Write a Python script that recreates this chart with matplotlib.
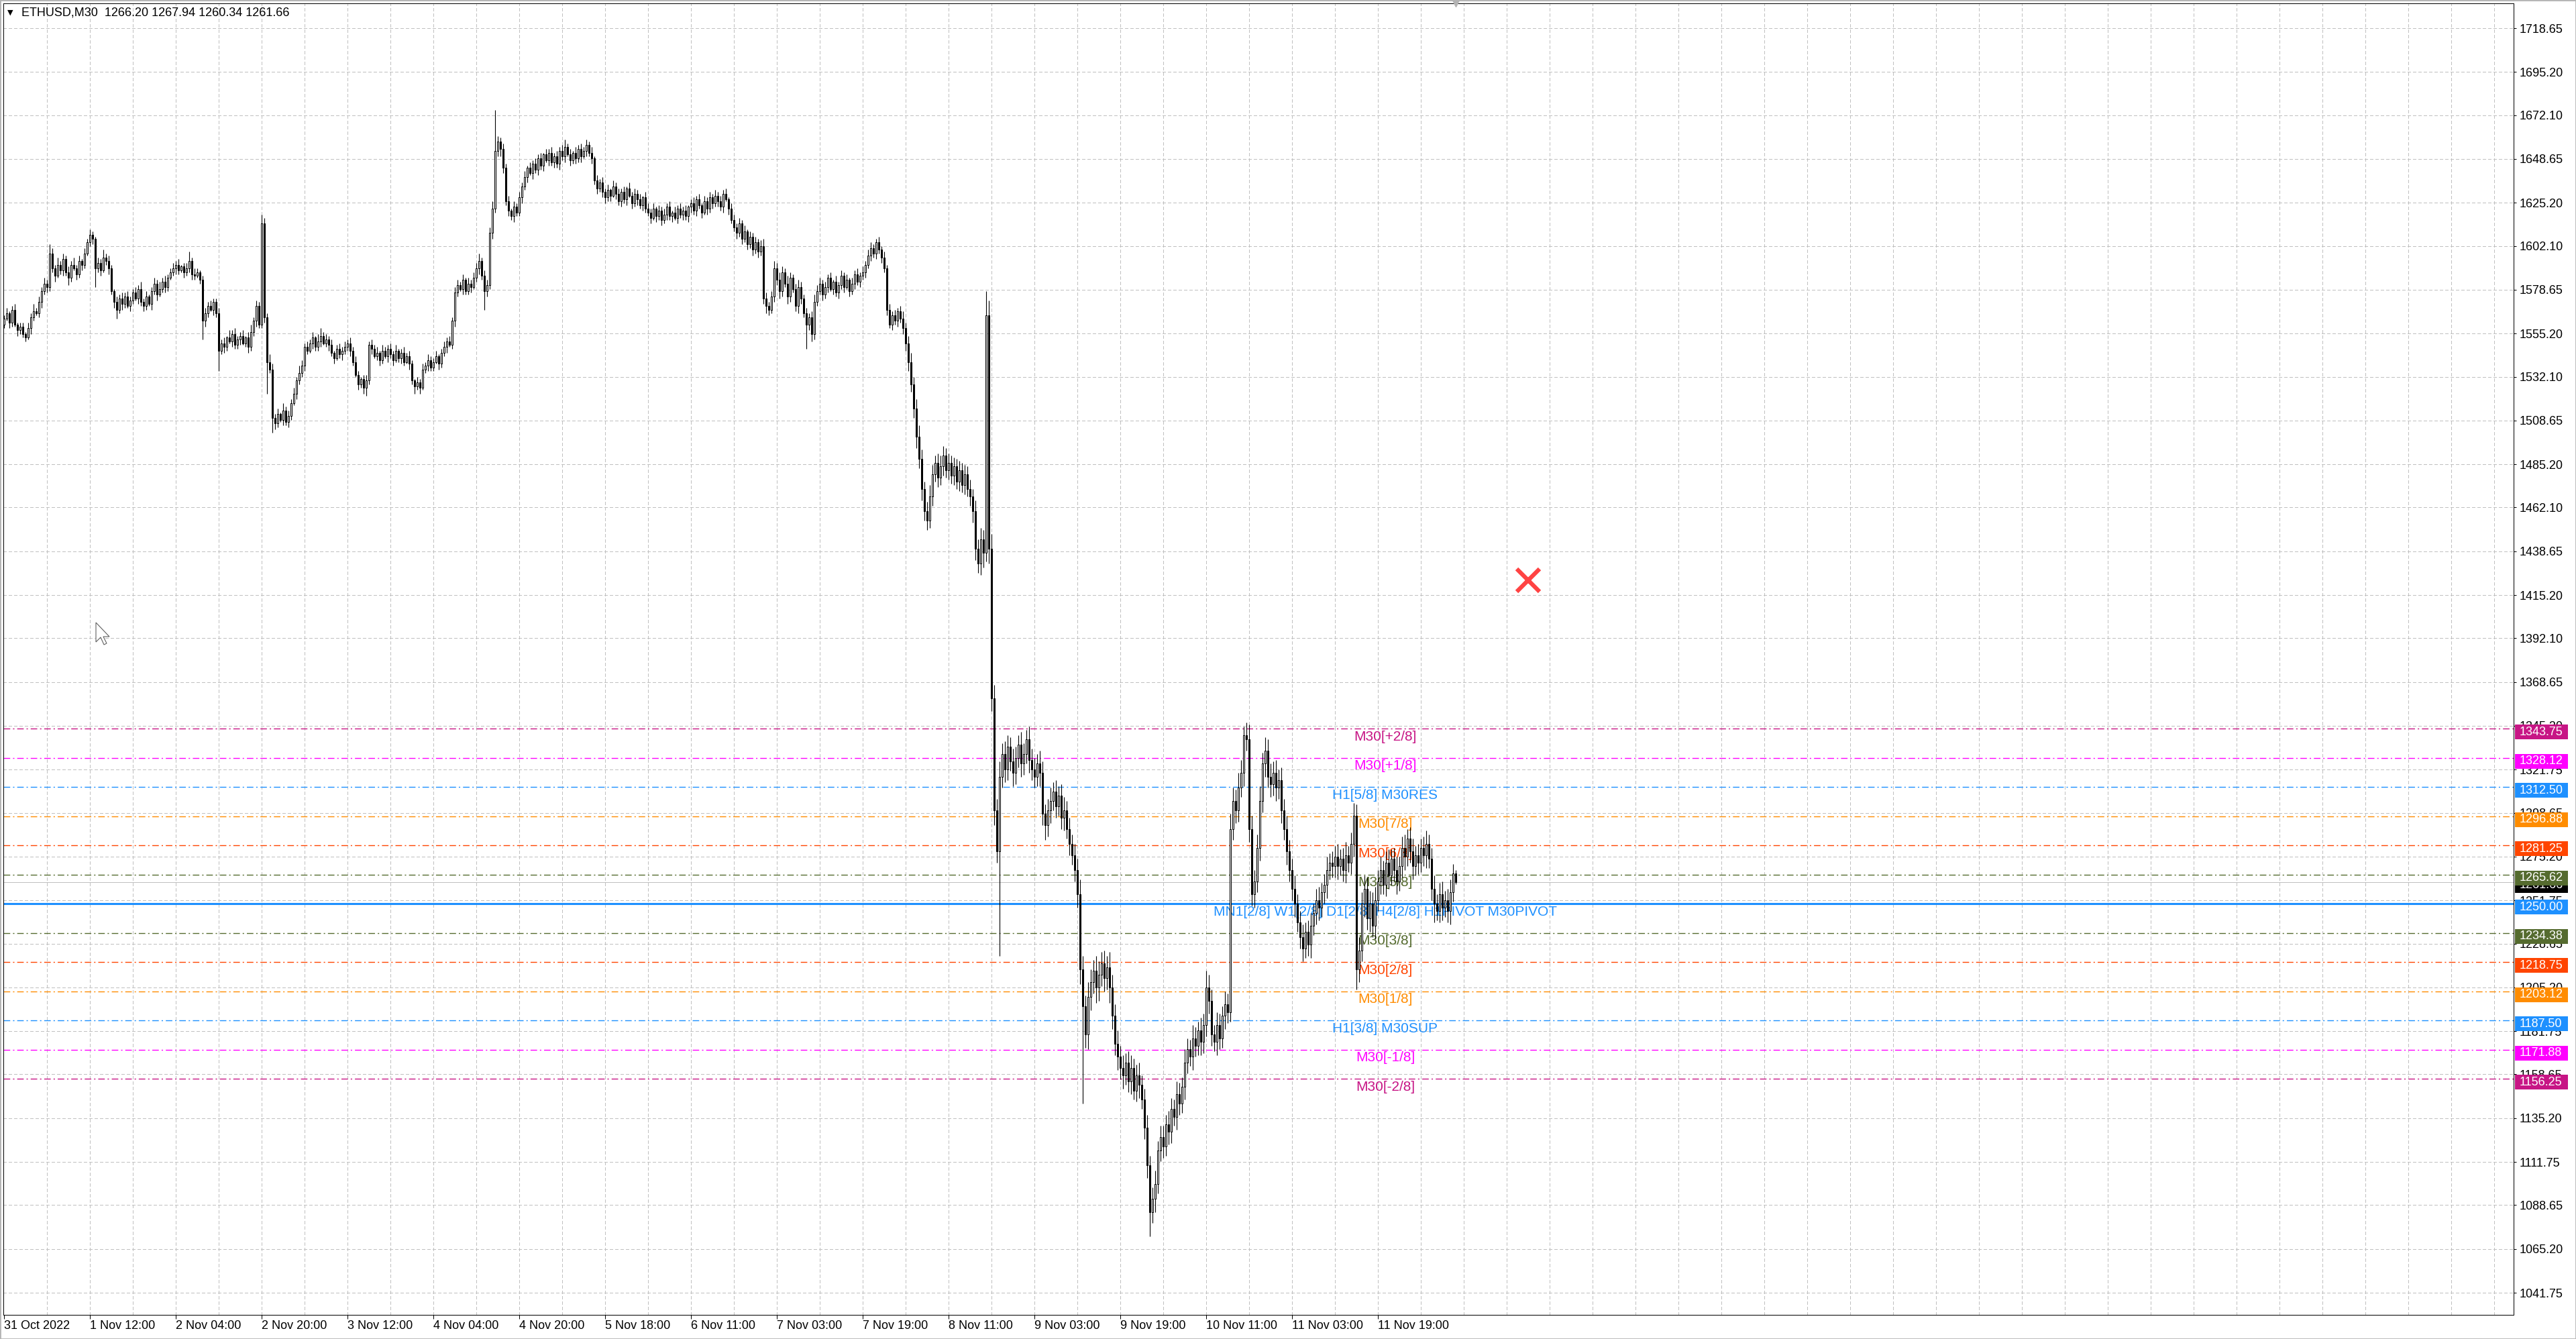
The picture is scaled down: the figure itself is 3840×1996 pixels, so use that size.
import numpy as np
import matplotlib.pyplot as plt
from matplotlib.patches import Rectangle, Polygon
from matplotlib.transforms import blended_transform_factory

plt.rcParams['font.family'] = ['Liberation Sans', 'DejaVu Sans']
plt.rcParams['lines.scale_dashes'] = False

# ETHUSD M30 closes, one row = 16 bars (one grid cell)
closes = [
    1563, 1566, 1561, 1568, 1560, 1557, 1559, 1555, 1553, 1558, 1564, 1567, 1566, 1572, 1578, 1582,
    1580, 1598, 1590, 1586, 1592, 1589, 1595, 1588, 1585, 1592, 1590, 1587, 1594, 1592, 1598, 1604,
    1608, 1606, 1590, 1593, 1589, 1596, 1594, 1590, 1578, 1572, 1568, 1574, 1571, 1575, 1570, 1573,
    1577, 1574, 1579, 1572, 1570, 1575, 1571, 1578, 1582, 1576, 1579, 1583, 1580, 1585, 1588, 1590,
    1592, 1589, 1591, 1588, 1590, 1594, 1587, 1586, 1588, 1584, 1562, 1566, 1570, 1568, 1572, 1566,
    1546, 1550, 1548, 1553, 1551, 1555, 1549, 1552, 1554, 1550, 1553, 1548, 1556, 1562, 1570, 1560,
    1614, 1564, 1540, 1536, 1510, 1507, 1512, 1509, 1514, 1508, 1511, 1518, 1523, 1530, 1534, 1538,
    1548, 1546, 1550, 1553, 1548, 1551, 1554, 1550, 1552, 1549, 1545, 1542, 1547, 1544, 1546, 1548,
    1550, 1546, 1540, 1533, 1528, 1531, 1526, 1530, 1549, 1547, 1543, 1545, 1541, 1546, 1543, 1547,
    1544, 1541, 1546, 1542, 1545, 1540, 1543, 1539, 1530, 1527, 1529, 1526, 1536, 1538, 1541, 1537,
    1540, 1543, 1539, 1545, 1548, 1551, 1549, 1562, 1577, 1581, 1579, 1584, 1578, 1582, 1580, 1585,
    1590, 1594, 1586, 1578, 1581, 1609, 1622, 1653, 1658, 1654, 1644, 1626, 1621, 1618, 1623, 1620,
    1628, 1634, 1639, 1644, 1641, 1646, 1643, 1649, 1645, 1651, 1648, 1652, 1647, 1650, 1646, 1653,
    1650, 1655, 1651, 1648, 1652, 1649, 1654, 1650, 1653, 1656, 1652, 1649, 1637, 1633, 1636, 1631,
    1628, 1632, 1629, 1634, 1630, 1626, 1631, 1627, 1633, 1629, 1625, 1630, 1627, 1624, 1628, 1622,
    1620, 1617, 1622, 1618, 1621, 1616, 1619, 1623, 1618, 1620, 1617, 1622, 1619, 1621, 1618, 1623,
    1625, 1621, 1627, 1624, 1620, 1626, 1622, 1628, 1625, 1629, 1626, 1623, 1630, 1627, 1622, 1616,
    1612, 1609, 1614, 1606, 1610, 1603, 1607, 1600, 1604, 1599, 1602, 1574, 1570, 1568, 1575, 1590,
    1584, 1578, 1588, 1582, 1575, 1585, 1579, 1570, 1580, 1574, 1566, 1560, 1564, 1555, 1572, 1578,
    1582, 1576, 1580, 1585, 1579, 1583, 1577, 1581, 1586, 1580, 1584, 1578, 1582, 1587, 1583, 1586,
    1588, 1592, 1597, 1601, 1598, 1604, 1600, 1596, 1590, 1568, 1560, 1565, 1562, 1567, 1563, 1558,
    1550, 1540, 1528, 1515, 1500, 1488, 1472, 1460, 1455, 1468, 1480, 1486, 1478, 1484, 1490, 1482,
    1486, 1479, 1484, 1476, 1482, 1474, 1480, 1472, 1468, 1460, 1440, 1432, 1445, 1438, 1565, 1440,
    1360, 1300, 1278, 1318, 1330, 1322, 1334, 1326, 1320, 1328, 1335, 1325, 1330, 1338, 1327, 1322,
    1318, 1325, 1320, 1298, 1292, 1300, 1305, 1310, 1302, 1308, 1296, 1300, 1290, 1282, 1276, 1268,
    1255, 1215, 1195, 1180, 1200, 1208, 1214, 1205, 1212, 1218, 1210, 1216, 1205, 1190, 1175, 1168,
    1162, 1158, 1165, 1155, 1162, 1150, 1158, 1153, 1145, 1130, 1110, 1085, 1092, 1100, 1118, 1125,
    1120, 1132, 1128, 1140, 1136, 1148, 1143, 1152, 1165, 1172, 1168, 1178, 1174, 1182, 1176, 1185,
    1205, 1198, 1180, 1176, 1185, 1178, 1190, 1196, 1192, 1290, 1305, 1300, 1312, 1320, 1340, 1338,
    1290, 1255, 1262, 1280, 1305, 1325, 1332, 1318, 1314, 1320, 1312, 1316, 1300, 1290, 1278, 1268,
    1258, 1250, 1240, 1232, 1226, 1235, 1228, 1238, 1245, 1252, 1248, 1256, 1260, 1268, 1272, 1270,
    1275, 1270, 1274, 1268, 1276, 1272, 1282, 1297, 1215, 1225, 1250, 1258, 1242, 1250, 1238, 1252,
    1262, 1268, 1260, 1272, 1265, 1274, 1268, 1262, 1270, 1280, 1275, 1285, 1278, 1270, 1276, 1272,
    1280, 1276, 1282, 1274, 1258, 1250, 1246, 1255, 1248, 1252, 1246, 1256, 1266.20, 1261.66,
]
first_open = 1560.0

# wick length above the body / below the body
up_wick = [
    2, 3, 1, 2, 3, 1, 2, 2, 1, 3, 2, 4, 2, 3, 2, 3,
    2, 5, 3, 2, 4, 2, 3, 2, 3, 2, 4, 2, 3, 1, 3, 2,
    3, 2, 1, 3, 2, 4, 2, 3, 2, 1, 3, 2, 3, 2, 3, 2,
    2, 3, 2, 4, 2, 3, 1, 2, 3, 2, 4, 2, 3, 2, 2, 3,
    2, 3, 1, 2, 3, 5, 2, 3, 2, 1, 2, 3, 2, 3, 2, 2,
    3, 2, 3, 1, 4, 2, 3, 2, 2, 3, 1, 3, 4, 2, 3, 2,
    5, 3, 2, 4, 3, 2, 3, 1, 4, 2, 3, 2, 3, 2, 4, 3,
    2, 3, 2, 3, 1, 4, 4, 2, 3, 2, 3, 1, 2, 3, 2, 3,
    2, 3, 2, 3, 2, 1, 2, 3, 2, 3, 2, 3, 1, 3, 2, 2,
    3, 2, 3, 1, 2, 3, 2, 3, 2, 1, 3, 2, 3, 2, 3, 2,
    2, 3, 1, 2, 3, 2, 3, 2, 3, 3, 2, 3, 1, 3, 2, 3,
    3, 4, 2, 3, 3, 3, 4, 22, 3, 2, 3, 2, 3, 1, 3, 2,
    3, 2, 3, 1, 3, 2, 3, 2, 3, 1, 3, 2, 3, 2, 3, 2,
    3, 4, 2, 3, 1, 3, 2, 3, 2, 3, 2, 3, 1, 3, 2, 3,
    2, 3, 1, 3, 2, 3, 2, 3, 1, 3, 2, 3, 2, 3, 1, 3,
    3, 2, 3, 1, 3, 2, 3, 2, 3, 1, 3, 2, 3, 2, 3, 1,
    2, 3, 2, 3, 1, 3, 2, 3, 2, 3, 2, 3, 2, 3, 1, 3,
    3, 2, 3, 2, 3, 1, 3, 2, 3, 2, 3, 4, 3, 2, 3, 4,
    3, 4, 3, 2, 4, 3, 2, 3, 4, 3, 2, 3, 2, 3, 4, 3,
    3, 2, 3, 2, 3, 1, 3, 2, 3, 2, 3, 1, 3, 2, 3, 2,
    3, 2, 3, 3, 2, 2, 3, 2, 3, 2, 3, 2, 3, 2, 3, 4,
    3, 4, 5, 4, 5, 6, 5, 4, 5, 6, 5, 4, 5, 6, 5, 4,
    5, 4, 5, 4, 5, 4, 5, 4, 5, 4, 6, 5, 6, 5, 13, 8,
    8, 7, 6, 8, 6, 7, 6, 5, 7, 6, 5, 7, 6, 5, 7, 6,
    6, 5, 7, 6, 5, 6, 7, 5, 6, 5, 6, 7, 5, 6, 5, 6,
    6, 8, 7, 6, 8, 7, 6, 8, 7, 6, 7, 6, 8, 7, 6, 7,
    6, 7, 5, 6, 7, 5, 6, 7, 5, 6, 7, 5, 6, 7, 5, 6,
    6, 5, 7, 6, 5, 7, 6, 5, 7, 6, 5, 7, 6, 5, 7, 6,
    9, 7, 6, 5, 7, 6, 5, 7, 6, 8, 7, 6, 8, 7, 5, 7,
    8, 7, 6, 7, 8, 6, 7, 6, 7, 6, 7, 6, 7, 6, 7, 6,
    6, 7, 5, 6, 7, 5, 6, 7, 5, 6, 7, 5, 6, 7, 5, 6,
    6, 7, 5, 6, 7, 5, 6, 7, 6, 7, 6, 7, 6, 7, 6, 7,
    6, 7, 5, 6, 7, 5, 6, 7, 5, 6, 7, 5, 6, 7, 5, 6,
    5, 6, 7, 5, 6, 7, 5, 6, 7, 5, 6, 7, 5, 1.74,
]
low_wick = [
    2, 1, 3, 2, 1, 3, 2, 2, 2, 1, 3, 2, 1, 2, 3, 2,
    3, 2, 2, 3, 1, 2, 3, 2, 4, 2, 1, 3, 2, 3, 2, 1,
    2, 3, 10, 2, 3, 1, 2, 3, 2, 3, 5, 2, 3, 2, 1, 3,
    2, 1, 3, 2, 3, 2, 1, 3, 2, 3, 1, 2, 3, 2, 1, 2,
    3, 2, 1, 3, 2, 2, 3, 2, 1, 2, 10, 3, 2, 1, 3, 2,
    11, 2, 3, 2, 1, 3, 2, 2, 3, 1, 2, 3, 2, 2, 3, 2,
    2, 3, 17, 2, 8, 3, 2, 1, 3, 2, 3, 2, 1, 3, 2, 2,
    3, 2, 1, 3, 2, 2, 3, 1, 2, 3, 2, 3, 1, 2, 3, 2,
    2, 3, 2, 1, 3, 2, 3, 4, 2, 3, 1, 2, 3, 2, 1, 3,
    2, 3, 1, 2, 3, 2, 1, 3, 2, 4, 2, 3, 1, 2, 3, 2,
    2, 1, 3, 2, 2, 3, 1, 2, 3, 2, 1, 3, 2, 2, 3, 1,
    2, 3, 2, 10, 3, 2, 3, 2, 3, 4, 3, 2, 3, 2, 3, 2,
    2, 3, 2, 3, 1, 3, 2, 3, 2, 3, 1, 3, 2, 3, 2, 3,
    2, 3, 1, 3, 2, 3, 2, 3, 1, 3, 2, 3, 2, 3, 2, 3,
    3, 2, 3, 1, 3, 2, 3, 2, 3, 1, 3, 2, 3, 2, 3, 2,
    2, 3, 1, 3, 2, 3, 2, 3, 2, 3, 1, 3, 2, 3, 2, 3,
    3, 2, 3, 2, 3, 1, 3, 2, 3, 2, 3, 2, 3, 1, 3, 2,
    2, 3, 2, 3, 2, 3, 2, 3, 2, 3, 2, 3, 4, 3, 2, 3,
    3, 4, 3, 2, 4, 3, 2, 3, 4, 3, 2, 13, 3, 4, 3, 2,
    2, 3, 2, 3, 1, 3, 2, 3, 2, 3, 1, 3, 2, 3, 2, 3,
    2, 3, 2, 3, 2, 3, 2, 3, 2, 3, 2, 3, 2, 3, 2, 3,
    4, 5, 4, 5, 6, 5, 6, 5, 5, 4, 5, 4, 5, 4, 5, 4,
    5, 4, 5, 4, 5, 4, 5, 4, 5, 6, 6, 5, 6, 8, 5, 8,
    7, 8, 6, 56, 6, 7, 6, 5, 7, 6, 5, 7, 6, 5, 7, 6,
    6, 5, 7, 6, 8, 6, 7, 5, 6, 5, 6, 7, 5, 6, 5, 6,
    7, 8, 52, 7, 8, 7, 6, 8, 7, 6, 7, 6, 8, 7, 6, 7,
    6, 7, 5, 6, 7, 5, 6, 7, 5, 6, 7, 13, 6, 7, 5, 6,
    6, 5, 7, 6, 5, 7, 6, 5, 7, 6, 5, 7, 6, 5, 7, 6,
    6, 7, 6, 5, 7, 6, 5, 7, 6, 5, 6, 7, 6, 5, 7, 6,
    7, 6, 7, 6, 7, 6, 7, 6, 7, 6, 7, 6, 7, 6, 7, 6,
    6, 7, 5, 6, 7, 5, 6, 7, 5, 6, 7, 5, 6, 7, 5, 6,
    6, 7, 5, 6, 7, 5, 6, 7, 11, 7, 6, 7, 6, 7, 6, 7,
    6, 7, 5, 6, 7, 5, 6, 7, 5, 6, 7, 5, 6, 7, 5, 6,
    5, 6, 7, 5, 6, 10, 5, 6, 7, 5, 6, 7, 5, 1.32,
]

date_labels = ['31 Oct 2022', '1 Nov 12:00', '2 Nov 04:00', '2 Nov 20:00', '3 Nov 12:00',
               '4 Nov 04:00', '4 Nov 20:00', '5 Nov 18:00', '6 Nov 11:00', '7 Nov 03:00',
               '7 Nov 19:00', '8 Nov 11:00', '9 Nov 03:00', '9 Nov 19:00', '10 Nov 11:00',
               '11 Nov 03:00', '11 Nov 19:00']
price_ticks = [1718.65, 1695.20, 1672.10, 1648.65, 1625.20, 1602.10, 1578.65, 1555.20,
               1532.10, 1508.65, 1485.20, 1462.10, 1438.65, 1415.20, 1392.10, 1368.65,
               1345.20, 1321.75, 1298.65, 1275.20, 1251.75, 1228.65, 1205.20, 1181.75,
               1158.65, 1135.20, 1111.75, 1088.65, 1065.20, 1041.75]

# murrey math levels
level_prices = [1343.75, 1328.12, 1312.50, 1296.88, 1281.25, 1265.62, 1250.00,
                1234.38, 1218.75, 1203.12, 1187.50, 1171.88, 1156.25]
level_names = ['M30[+2/8]', 'M30[+1/8]', 'H1[5/8] M30RES', 'M30[7/8]', 'M30[6/8]', 'M30[5/8]',
               'MN1[2/8] W1[2/8] D1[2/8] H4[2/8] H1PIVOT M30PIVOT',
               'M30[3/8]', 'M30[2/8]', 'M30[1/8]', 'H1[3/8] M30SUP', 'M30[-1/8]', 'M30[-2/8]']
level_colors = ['#C71585', '#FF00FF', '#1E90FF', '#FF8C00', '#FF4500', '#556B2F', '#1E90FF',
                '#556B2F', '#FF4500', '#FF8C00', '#1E90FF', '#FF00FF', '#C71585']
label_bar = 514.75
bid_price = 1261.66
cross_bar, cross_price = 568, 1423

n = len(closes)
opens = [first_open] + closes[:-1]
highs = [max(o, c) + u for o, c, u in zip(opens, closes, up_wick)]
lows = [min(o, c) - d for o, c, d in zip(opens, closes, low_wick)]
x = np.arange(n)

W, H = 3840, 1996
fig = plt.figure(figsize=(W / 100, H / 100), dpi=100)
ax = fig.add_axes([5 / W, 36 / H, 3742 / W, 1955 / H])
ax.set_xlim(-0.25, 935.25)
ax.set_ylim(1029.9, 1731.94)
px = 1955 / (1731.94 - 1029.9)   # pixels per price unit

# grid
ax.hlines(price_ticks, -0.25, 935.25, colors='#c0c0c0', linewidth=0.72,
          linestyles=(0, (3.2, 2.6)), zorder=0.5, antialiased=False)
ax.vlines(np.arange(16, 935, 16), 1029.9, 1731.94, colors='#c0c0c0', linewidth=0.72,
          linestyles=(0, (3.2, 2.6)), zorder=0.5, antialiased=False)

# levels
for p, name, c in zip(level_prices, level_names, level_colors):
    if p == 1250.00:
        ax.axhline(p, color=c, lw=2.2, zorder=1.2)
    else:
        ax.axhline(p, color=c, lw=1.0, ls=(0, (7, 3, 1.5, 3)), zorder=1.2)
    ax.annotate(name, xy=(label_bar, p), xytext=(0, -2), textcoords='offset points',
                ha='center', va='top', color=c, fontsize=15, zorder=1.5)
ax.axhline(bid_price, color='#c0c0c0', lw=0.72, zorder=1.1)

# candles
o = np.array(opens, dtype=float)
c = np.array(closes, dtype=float)
ax.vlines(x, lows, highs, colors='black', linewidth=0.8, zorder=3)
body_low = np.minimum(o, c)
body_h = np.maximum(np.abs(c - o), 0.4)
face = ['white' if cc >= oo else 'black' for oo, cc in zip(o, c)]
ax.bar(x, body_h, bottom=body_low, width=0.6, color=face, edgecolor='black',
       linewidth=0.75, zorder=3.1)

# axes look
for s in ax.spines.values():
    s.set_color('black')
    s.set_linewidth(0.72)
ax.yaxis.tick_right()
ax.set_yticks(price_ticks)
ax.set_yticklabels([f'{v:.2f}' for v in price_ticks])
ax.tick_params(axis='y', length=2.9, width=0.72, pad=3.6, labelsize=13, direction='out')
ax.set_xticks(np.arange(0, 32 * len(date_labels), 32))
ax.set_xticklabels(date_labels)
for lbl in ax.get_xticklabels():
    lbl.set_ha('left')
ax.tick_params(axis='x', length=4.3, width=0.72, pad=1.5, labelsize=13, direction='out')

# price boxes on the right scale
trans = blended_transform_factory(fig.transFigure, ax.transData)
box_list = [(bid_price, 'black')] + list(zip(level_prices, level_colors))
for i, (p, col) in enumerate(box_list):
    ax.add_patch(Rectangle((3749 / W, p - 16 / px), 79 / W, 22 / px, transform=trans,
                           facecolor=col, edgecolor='none', clip_on=False, zorder=5 + i * 0.01))
    ax.text(3756 / W, p - 5 / px, f'{p:.2f}', transform=trans, color='white', fontsize=13,
            ha='left', va='center', clip_on=False, zorder=5.005 + i * 0.01)

# title
fig.text(15 / W, 1 - 19 / H, '▼', fontsize=8, family='DejaVu Sans', ha='center', va='center')
fig.text(32 / W, 1 - 19 / H, 'ETHUSD,M30  1266.20 1267.94 1260.34 1261.66', fontsize=13,
         ha='left', va='center')

# red cross object and chart shift marker
ax.plot([cross_bar], [cross_price], marker='x', ms=24, mew=4.5, color='#ff4343', zorder=6)
ax.plot([n - 1], [1731.94], marker='v', ms=7, color='#b4b4b4', clip_on=False, zorder=6)

# mouse pointer
ptr = [(0, 0), (0, 29), (7, 22), (12, 33), (16, 31), (11, 21), (20, 21)]
ptr = [((143 + a) / W, 1 - (928 + b) / H) for a, b in ptr]
fig.add_artist(Polygon(ptr, closed=True, facecolor='white', edgecolor='#606060', lw=0.8,
                       transform=fig.transFigure))

fig.add_artist(Rectangle((0, 0), 1, 1, transform=fig.transFigure, fill=False,
                         edgecolor='#b4b4b4', lw=2))

fig.savefig('out.png', dpi=100)
